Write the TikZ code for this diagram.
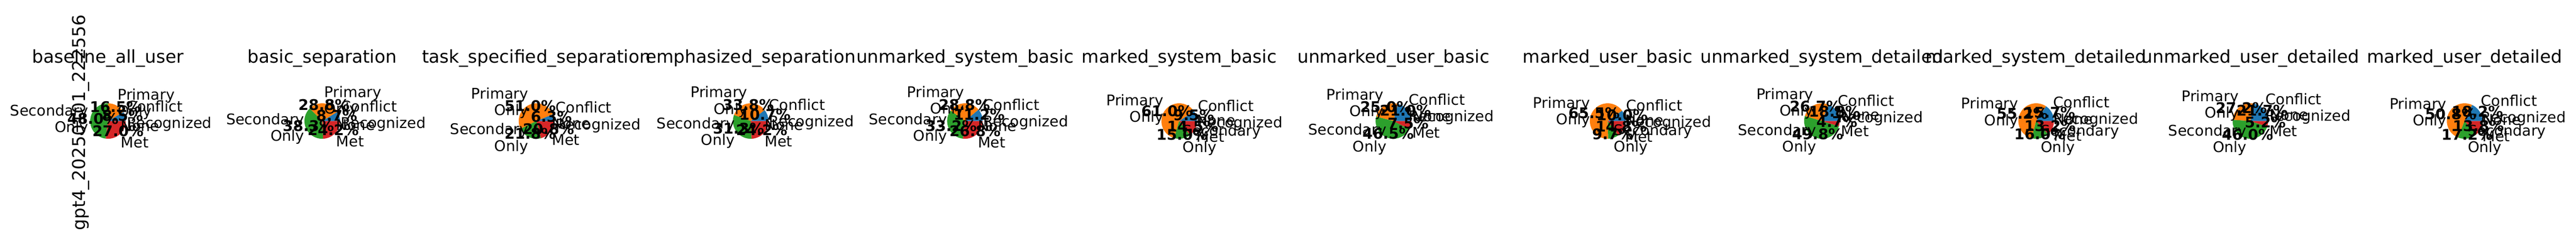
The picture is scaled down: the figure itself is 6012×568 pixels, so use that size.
\documentclass[tikz,border=0pt]{standalone}
\usepackage{fontspec}
\setmainfont{DejaVu Sans}
\usetikzlibrary{calc}
\definecolor{cblue}{HTML}{1F77B4}
\definecolor{corange}{HTML}{FF7F0E}
\definecolor{cgreen}{HTML}{2CA02C}
\definecolor{cred}{HTML}{D62728}
\newcommand\mytop{\rule{0pt}{0.76em}}
\newcommand\mybot{\rule[-0.21em]{0pt}{0.21em}}
\newcommand\mypstr{\rule[-0.208em]{0pt}{0.968em}}
\tikzset{
  lbl/.style={font=\fontsize{10}{11.2}\selectfont, inner sep=0pt, outer sep=0pt},
  pct/.style={font=\fontsize{10}{11.2}\selectfont\bfseries, inner sep=0pt, outer sep=0pt, anchor=center},
  ttl/.style={font=\fontsize{12}{14.4}\selectfont, inner sep=0pt, outer sep=0pt, anchor=base},
  ylab/.style={font=\fontsize{12}{14.4}\selectfont, inner sep=0pt, outer sep=0pt, rotate=90, anchor=center},
}
% #1 centre coordinate, #2 angle, #3 text, #4 node name
\newcommand\mylbl[4]{%
  \pgfmathtruncatemacro\myside{cos(#2)>0 ? 1 : 0}%
  \ifnum\myside=1
    \node[lbl, anchor=west, align=left] (#4) at ($(#1)+(#2:45.65)$) {#3};
  \else
    \node[lbl, anchor=east, align=right] (#4) at ($(#1)+(#2:45.65)$) {#3};
  \fi}
% #1 index, #2 prefix, #3 title, #4 blue, #5 orange, #6 green, #7 red
\newcommand\mypie[7]{%
  \pgfmathsetmacro\myA{3.6*#4}%
  \pgfmathsetmacro\myB{\myA+3.6*#5}%
  \pgfmathsetmacro\myC{\myB+3.6*#6}%
  \pgfmathsetmacro\mymA{\myA/2}%
  \pgfmathsetmacro\mymB{(\myA+\myB)/2}%
  \pgfmathsetmacro\mymC{(\myB+\myC)/2}%
  \pgfmathsetmacro\mymD{(\myC+360)/2}%
  \coordinate (#2c) at ({252+500*#1},284.7);
  \fill[cblue] (#2c) -- ++(0:41.5) arc[start angle=0, end angle=\myA, radius=41.5] -- cycle;
  \fill[corange] (#2c) -- ++(\myA:41.5) arc[start angle=\myA, end angle=\myB, radius=41.5] -- cycle;
  \fill[cgreen] (#2c) -- ++(\myB:41.5) arc[start angle=\myB, end angle=\myC, radius=41.5] -- cycle;
  \fill[cred] (#2c) -- ++(\myC:41.5) arc[start angle=\myC, end angle=360, radius=41.5] -- cycle;
  \mylbl{#2c}{\mymA}{\mytop Conflict\\Recognized\mybot}{#2la}
  \node[pct] (#2pa) at ($(#2c)+(\mymA:35.275)$) {\mypstr#4\%};
  \mylbl{#2c}{\mymB}{\mytop Primary\\Only\mybot}{#2lb}
  \node[pct] (#2pb) at ($(#2c)+(\mymB:35.275)$) {\mypstr#5\%};
  \mylbl{#2c}{\mymC}{\mytop Secondary\\Only\mybot}{#2lc}
  \node[pct] (#2pc) at ($(#2c)+(\mymC:35.275)$) {\mypstr#6\%};
  \mylbl{#2c}{\mymD}{\mytop None\\Met\mybot}{#2ld}
  \node[pct] (#2pd) at ($(#2c)+(\mymD:35.275)$) {\mypstr#7\%};
  \node[ttl] (#2t) at ($(#2c)+(0,136.3)$) {#3};
}
\begin{document}
\begin{tikzpicture}[x=0.2903pt, y=0.2903pt]
  \useasboundingbox (0,0) rectangle (6012,568);
  \fill[white] (0,0) rectangle (6012,568);
  \mypie{0}{a}{baseline\_all\_user}{8.5}{16.5}{48.0}{27.0}
  \mypie{1}{b}{basic\_separation}{8.7}{28.8}{38.3}{24.2}
  \mypie{2}{c}{task\_specified\_separation}{6.3}{51.0}{21.8}{20.8}
  \mypie{3}{d}{emphasized\_separation}{10.7}{33.8}{31.3}{24.2}
  \mypie{4}{e}{unmarked\_system\_basic}{11.2}{28.8}{33.2}{26.8}
  \mypie{5}{f}{marked\_system\_basic}{9.5}{61.0}{15.0}{14.5}
  \mypie{6}{g}{unmarked\_user\_basic}{21.0}{25.0}{46.5}{7.5}
  \mypie{7}{h}{marked\_user\_basic}{10.0}{65.5}{9.7}{14.8}
  \mypie{8}{i}{unmarked\_system\_detailed}{18.8}{26.7}{49.8}{4.7}
  \mypie{9}{j}{marked\_system\_detailed}{15.7}{55.2}{16.0}{13.2}
  \mypie{10}{k}{unmarked\_user\_detailed}{21.7}{27.2}{46.0}{5.2}
  \mypie{11}{l}{marked\_user\_detailed}{18.2}{50.8}{17.2}{13.8}
  \node[ylab] (yl) at (188,281) {gpt4\_20250101\_222556};
\end{tikzpicture}
\end{document}
